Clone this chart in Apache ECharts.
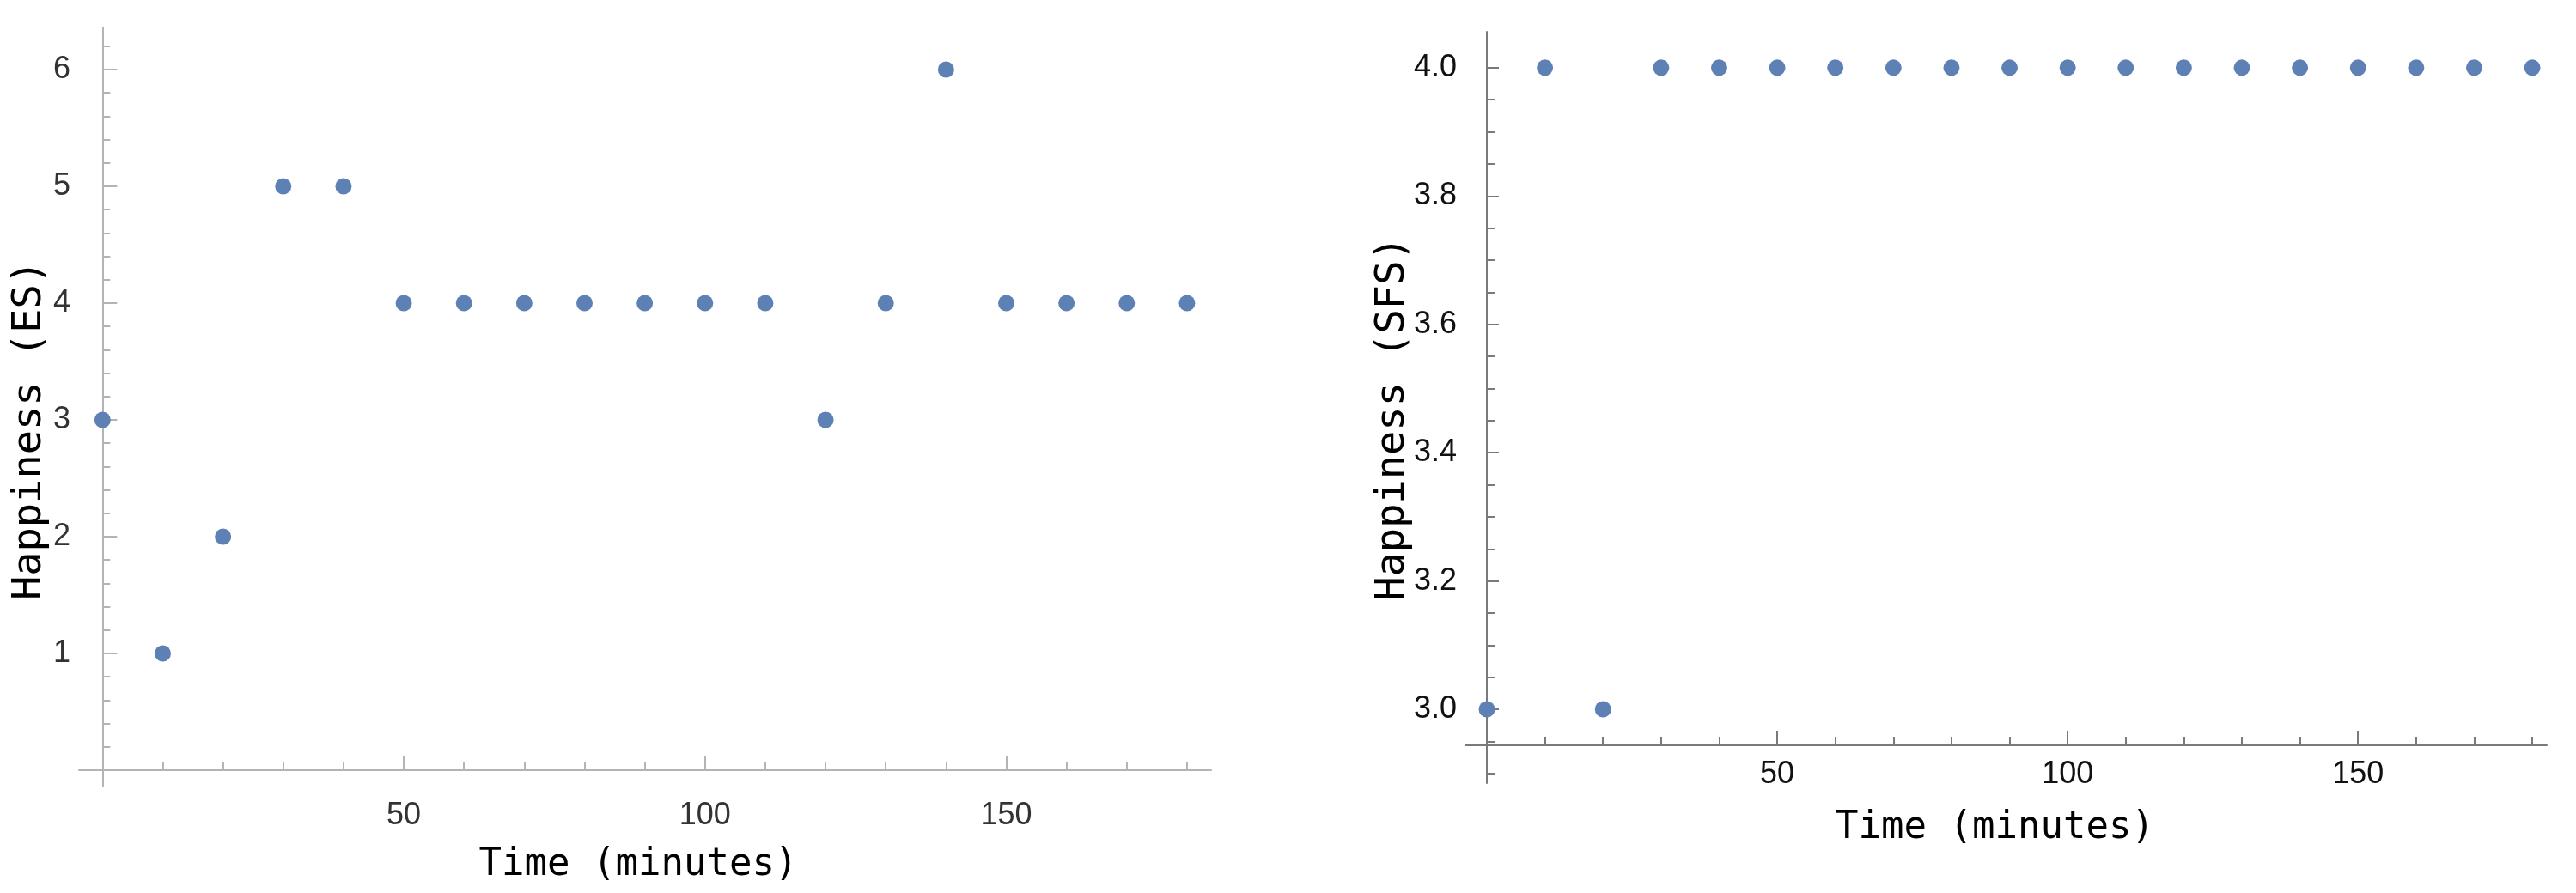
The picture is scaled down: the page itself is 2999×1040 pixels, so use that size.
<!DOCTYPE html>
<html>
<head>
<meta charset="utf-8">
<script src="https://cdn.jsdelivr.net/npm/echarts@6/dist/echarts.min.js"></script>
<style>
  html, body { margin: 0; padding: 0; background: #ffffff; }
  #chart { width: 2999px; height: 1040px; }
</style>
</head>
<body>
<div id="chart"></div>
<script>
// ---- data ----
const timeMinutes   = [0, 10, 20, 30, 40, 50, 60, 70, 80, 90, 100, 110, 120, 130, 140, 150, 160, 170, 180];
const happinessES   = [3, 1, 2, 5, 5, 4, 4, 4, 4, 4, 4, 4, 3, 4, 6, 4, 4, 4, 4];
const happinessSFS  = [3, 4, 3, 4, 4, 4, 4, 4, 4, 4, 4, 4, 4, 4, 4, 4, 4, 4, 4];

// ---- tick labels / tick positions ----
const xMajorTicks   = [50, 100, 150];
const xMinorTicks   = [10, 20, 30, 40, 60, 70, 80, 90, 110, 120, 130, 140, 160, 170, 180];
const esMajorTicks  = [1, 2, 3, 4, 5, 6];
const esMinorTicks  = [0.2, 0.4, 0.6, 0.8, 1.2, 1.4, 1.6, 1.8, 2.2, 2.4, 2.6, 2.8, 3.2, 3.4, 3.6, 3.8,
                       4.2, 4.4, 4.6, 4.8, 5.2, 5.4, 5.6, 5.8, 6.2];
const sfsMajorTicks = [3.0, 3.2, 3.4, 3.6, 3.8, 4.0];
const sfsMinorTicks = [2.9, 2.95, 3.05, 3.1, 3.15, 3.25, 3.3, 3.35, 3.45, 3.5, 3.55, 3.65, 3.7, 3.75,
                       3.85, 3.9, 3.95];

const xTitle = 'Time (minutes)';
const esTitle = 'Happiness (ES)';
const sfsTitle = 'Happiness (SFS)';

const pointColor = '#5E81B5';
const labelFont = "'Liberation Sans', Arial, sans-serif";
const titleFont = "'DejaVu Sans Mono', 'Liberation Mono', monospace";

function pairs(xs, ys) { return xs.map((x, i) => [x, ys[i]]); }

function xAxes(gridIndex, min, max, lineColor, labelColor, gap, pad, offset) {
  return [
    {
      type: 'value', gridIndex, min, max, position: 'bottom', offset,
      axisLine: { show: true, onZero: offset === 0, lineStyle: { color: lineColor, width: 2 } },
      axisTick: { show: true, inside: true, length: 17, customValues: xMajorTicks, lineStyle: { color: lineColor, width: 2 } },
      axisLabel: { show: true, customValues: xMajorTicks, margin: 16, color: labelColor, fontFamily: labelFont, fontSize: 36 },
      splitLine: { show: false },
      name: xTitle, nameLocation: 'middle', nameGap: gap, nameMoveOverlap: false,
      nameTextStyle: { fontFamily: titleFont, fontSize: 44, color: '#000', padding: pad }
    },
    {
      type: 'value', gridIndex, min, max, position: 'bottom', offset,
      axisLine: { show: false, onZero: offset === 0 },
      axisTick: { show: true, inside: true, length: 10, customValues: xMinorTicks, lineStyle: { color: lineColor, width: 2 } },
      axisLabel: { show: false },
      splitLine: { show: false }
    }
  ];
}

function yAxes(gridIndex, min, max, major, minor, lineColor, labelColor, fmt, title, gap, pad, majorLen) {
  return [
    {
      type: 'value', gridIndex, min, max, position: 'left',
      axisLine: { show: true, onZero: true, lineStyle: { color: lineColor, width: 2 } },
      axisTick: { show: true, inside: true, length: majorLen, customValues: major, lineStyle: { color: lineColor, width: 2 } },
      axisLabel: { show: true, customValues: major, margin: 10, color: labelColor, fontFamily: labelFont, fontSize: 36, formatter: fmt },
      splitLine: { show: false },
      name: title, nameLocation: 'middle', nameGap: gap, nameRotate: 90, nameMoveOverlap: false,
      nameTextStyle: { fontFamily: titleFont, fontSize: 47, color: '#000', padding: pad }
    },
    {
      type: 'value', gridIndex, min, max, position: 'left',
      axisLine: { show: false, onZero: true },
      axisTick: { show: true, inside: true, length: 9, customValues: minor, lineStyle: { color: lineColor, width: 2 } },
      axisLabel: { show: false },
      splitLine: { show: false }
    }
  ];
}

const chart = echarts.init(document.getElementById('chart'), null, { renderer: 'canvas' });

const option = {
  backgroundColor: '#ffffff',
  animation: false,
  grid: [
    { left: 92, right: 1589, top: 32, bottom: 124, containLabel: false },
    { left: 1706, right: 34, top: 37, bottom: 128, containLabel: false }
  ],
  xAxis: [
    ...xAxes(0, -3.9, 184, '#b4b4b4', '#333333', 70, [0, 16, 0, 0], 0),
    ...xAxes(1, -3.7, 182.5, '#7a7a7a', '#111111', 75, [0, 26, 0, 0], -44)
  ],
  yAxis: [
    ...yAxes(0, -0.14, 6.36, esMajorTicks, esMinorTicks, '#b4b4b4', '#333333',
             v => String(v), esTitle, 34, [0, 54, 0, 0], 17),
    ...yAxes(1, 2.885, 4.056, sfsMajorTicks, sfsMinorTicks, '#7a7a7a', '#111111',
             v => Number(v).toFixed(1), sfsTitle, 61, [0, 26, 0, 0], 14)
  ],
  series: [
    {
      type: 'scatter', xAxisIndex: 0, yAxisIndex: 0,
      data: pairs(timeMinutes, happinessES),
      symbol: 'circle', symbolSize: 19,
      itemStyle: { color: pointColor, opacity: 1 }
    },
    {
      type: 'scatter', xAxisIndex: 2, yAxisIndex: 2,
      data: pairs(timeMinutes, happinessSFS),
      symbol: 'circle', symbolSize: 19,
      itemStyle: { color: pointColor, opacity: 1 }
    }
  ]
};

chart.setOption(option);
</script>
</body>
</html>
